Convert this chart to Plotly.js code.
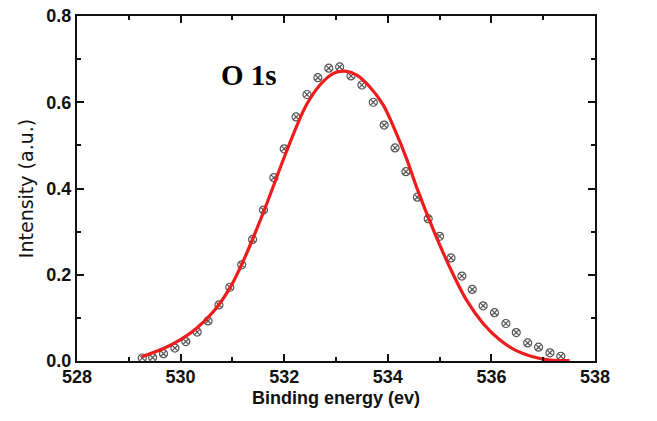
<!DOCTYPE html>
<html>
<head>
<meta charset="utf-8">
<script src="https://cdn.plot.ly/plotly-3.0.1.min.js"></script>
<style>html,body{margin:0;padding:0;background:#fff;}#chart{width:657px;height:421px;}</style>
</head>
<body>
<div id="chart"></div>
<script>
// Measured data points (binding energy, intensity)
const expEnergy = [529.26, 529.46, 529.67, 529.89, 530.10, 530.32, 530.53, 530.74, 530.95, 531.18,
  531.39, 531.60, 531.80, 532.00, 532.23, 532.44, 532.65, 532.86, 533.07, 533.29,
  533.50, 533.72, 533.93, 534.14, 534.35, 534.57, 534.78, 535.00, 535.22, 535.43,
  535.63, 535.84, 536.06, 536.28, 536.48, 536.70, 536.91, 537.13, 537.34];
const expIntensity = [0.007, 0.008, 0.017, 0.030, 0.045, 0.067, 0.093, 0.130, 0.171, 0.223,
  0.282, 0.350, 0.425, 0.492, 0.566, 0.618, 0.657, 0.679, 0.682, 0.661,
  0.640, 0.600, 0.547, 0.494, 0.439, 0.380, 0.330, 0.289, 0.239, 0.197,
  0.166, 0.128, 0.112, 0.087, 0.066, 0.042, 0.032, 0.019, 0.011];
// Fitted curve
const fitEnergy = [529.25, 529.67, 529.99, 530.31, 530.63, 530.95, 531.21, 531.59, 531.98, 532.17,
  532.43, 532.69, 532.95, 533.17, 533.40, 533.65, 533.91, 534.14, 534.36, 534.55,
  534.87, 535.19, 535.52, 535.84, 536.16, 536.48, 536.80, 537.13, 537.51];
const fitIntensity = [0.010, 0.029, 0.049, 0.076, 0.114, 0.169, 0.232, 0.342, 0.466, 0.524,
  0.594, 0.640, 0.667, 0.672, 0.663, 0.636, 0.594, 0.535, 0.470, 0.405,
  0.307, 0.219, 0.141, 0.087, 0.049, 0.024, 0.010, 0.002, 0.001];
const xTicks = [528, 530, 532, 534, 536, 538];
const yTicks = [0.0, 0.2, 0.4, 0.6, 0.8];
const yTickText = ['0.0', '0.2', '0.4', '0.6', '0.8'];
const peakLabel = 'O 1s';

const tickFont = {family: 'Liberation Sans, Arial, sans-serif', size: 18, color: '#111', weight: 'bold'};

const traces = [
  {
    x: expEnergy, y: expIntensity, mode: 'markers', type: 'scatter',
    marker: {symbol: 'circle-x-open', size: 8, color: '#555', line: {width: 1.2, color: '#555'}},
    hoverinfo: 'skip'
  },
  {
    x: fitEnergy, y: fitIntensity, mode: 'lines', type: 'scatter',
    line: {color: '#ee1c1c', width: 3.2, shape: 'spline', smoothing: 1},
    hoverinfo: 'skip'
  }
];

const layout = {
  width: 657, height: 421,
  margin: {l: 77, r: 62, t: 16, b: 60},
  paper_bgcolor: '#fff', plot_bgcolor: '#fff',
  showlegend: false,
  xaxis: {
    range: [528, 538], tickvals: xTicks, ticks: 'inside', ticklen: 7, tickwidth: 2,
    showline: true, linewidth: 2, linecolor: '#111', mirror: 'ticks', showgrid: false, zeroline: false,
    minor: {dtick: 1, ticks: 'inside', ticklen: 4, tickwidth: 2, tickcolor: '#111', showgrid: false},
    tickcolor: '#111', tickfont: tickFont, ticklabelstandoff: -2,
    title: {text: 'Binding energy (ev)', font: {family: 'Liberation Sans, Arial, sans-serif', size: 18, color: '#111', weight: 'bold'}, standoff: 6}
  },
  yaxis: {
    range: [0, 0.8], tickvals: yTicks, ticktext: yTickText, ticks: 'inside', ticklen: 7, tickwidth: 2,
    showline: true, linewidth: 2, linecolor: '#111', mirror: 'ticks', showgrid: false, zeroline: false,
    minor: {dtick: 0.1, ticks: 'inside', ticklen: 4, tickwidth: 2, tickcolor: '#111', showgrid: false},
    tickcolor: '#111', tickfont: tickFont,
    title: {text: 'Intensity (a.u.)', font: {family: 'DejaVu Sans, sans-serif', size: 19, color: '#111'}, standoff: 8}
  },
  annotations: [{
    x: 531.32, y: 0.663, xref: 'x', yref: 'y', text: peakLabel, showarrow: false,
    font: {family: 'Liberation Serif, Times New Roman, serif', size: 29, color: '#000', weight: 'bold'}
  }]
};

Plotly.newPlot('chart', traces, layout, {staticPlot: true, displayModeBar: false});
</script>
</body>
</html>
